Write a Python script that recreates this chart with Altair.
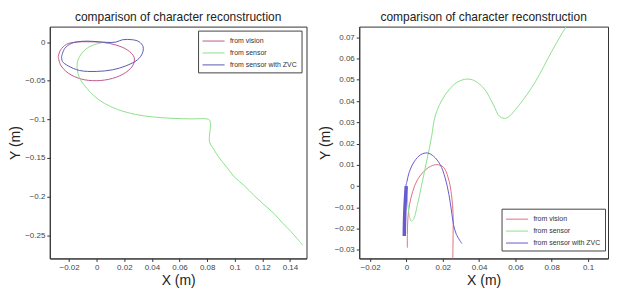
import altair as alt
import pandas as pd

SERIES = ["from vision", "from sensor", "from sensor with ZVC"]

# ---------- left panel ----------
left_vision_x = [-0.0279, -0.0262, -0.0219, -0.0148, -0.0052, 0.0044, 0.0139, 0.0223, 0.0271, 0.0264,
                 0.0211, 0.0115, -0.0004, -0.0112, -0.0207, -0.0262, -0.0279]
left_vision_y = [-0.0188, -0.0103, -0.0029, 0.0, 0.0004, -0.0004, -0.0038, -0.0103, -0.0196, -0.0295,
                 -0.0393, -0.047, -0.05, -0.0478, -0.0401, -0.0295, -0.0188]

left_sensor_x = [0.006, 0.0008, -0.0057, -0.0107, -0.0135, -0.0143, -0.0135, -0.0114, -0.0071, -0.0014,
                 0.0058, 0.0151, 0.028, 0.0402, 0.0546, 0.0689, 0.0797, 0.0818, 0.0825, 0.0818,
                 0.0818, 0.0847, 0.0883, 0.094, 0.0997, 0.1069, 0.1141, 0.1212, 0.1284, 0.1349,
                 0.1406, 0.1449, 0.1492]
left_sensor_y = [0.0, -0.002, -0.0064, -0.0141, -0.0231, -0.0308, -0.041, -0.05, -0.06, -0.0705,
                 -0.0795, -0.0872, -0.0936, -0.0968, -0.0987, -0.0994, -0.0994, -0.101, -0.1077, -0.119,
                 -0.1295, -0.1385, -0.1487, -0.1615, -0.1744, -0.1859, -0.1987, -0.2103, -0.2218, -0.2346,
                 -0.2449, -0.2538, -0.2628]

left_zvc_x = [-0.0255, -0.0231, -0.0183, -0.0112, -0.0028, 0.0067, 0.0139, 0.0187, 0.0259, 0.0307,
              0.0336, 0.0331, 0.0295, 0.0211, 0.0115, -0.0004, -0.0123, -0.0207, -0.0248, -0.0255]
left_zvc_y = [-0.0188, -0.0081, -0.0017, 0.0009, 0.0009, -0.0004, 0.0, 0.003, 0.003, 0.0004,
              -0.006, -0.0145, -0.023, -0.0308, -0.0359, -0.038, -0.0368, -0.0308, -0.0252, -0.0188]

# ---------- right panel ----------
right_vision_x = [0.0005, 0.0005, 0.0008, 0.0017, 0.0035, 0.0061, 0.0097, 0.0133, 0.0168, 0.0204,
                  0.023, 0.0248, 0.0257, 0.0257, 0.0255]
right_vision_y = [-0.029, -0.0227, -0.0149, -0.0086, -0.0024, 0.0031, 0.007, 0.0093, 0.0101, 0.0089,
                  0.0039, -0.004, -0.0133, -0.0227, -0.035]

right_sensor_x = [0.0, 0.0006, 0.0013, 0.0026, 0.0038, 0.0061, 0.0088, 0.0115, 0.0138, 0.016,
                  0.0213, 0.0284, 0.0355, 0.0426, 0.0479, 0.0514, 0.055, 0.0621, 0.071, 0.0799,
                  0.0879, 0.093]
right_sensor_y = [0.0, -0.007, -0.0125, -0.0164, -0.0157, -0.0086, 0.0023, 0.0132, 0.023, 0.0335,
                  0.0429, 0.0491, 0.0502, 0.046, 0.0382, 0.0327, 0.032, 0.0382, 0.0491, 0.0632,
                  0.075, 0.082]

right_zvc_x = [-0.0012, -0.0008, -0.0003, 0.0003, 0.0017, 0.0044, 0.0079, 0.0115, 0.015, 0.0186,
               0.0213, 0.0234, 0.0248, 0.0259, 0.0275, 0.0305]
right_zvc_y = [-0.0234, -0.012, 0.0, 0.0023, 0.007, 0.0117, 0.0148, 0.0156, 0.014, 0.0101,
               0.0039, -0.004, -0.0117, -0.018, -0.0227, -0.027]

right_zvc_thick_x = [-0.0012, -0.0011, -0.0008, -0.0004, -0.0001]
right_zvc_thick_y = [-0.0234, -0.018, -0.01, -0.004, 0.0]

left_x_ticks = [-0.02, 0, 0.02, 0.04, 0.06, 0.08, 0.1, 0.12, 0.14]
left_y_ticks = [-0.25, -0.2, -0.15, -0.1, -0.05, 0]
right_x_ticks = [-0.02, 0, 0.02, 0.04, 0.06, 0.08, 0.1]
right_y_ticks = [-0.03, -0.02, -0.01, 0, 0.01, 0.02, 0.03, 0.04, 0.05, 0.06, 0.07]

TITLE = "comparison of character reconstruction"


def frame(parts):
    rows = []
    for name, xs, ys in parts:
        for i, (x, y) in enumerate(zip(xs, ys)):
            rows.append({"x": x, "y": y, "series": name, "i": i})
    return pd.DataFrame(rows)


left_df = frame([("from vision", left_vision_x, left_vision_y),
                 ("from sensor", left_sensor_x, left_sensor_y),
                 ("from sensor with ZVC", left_zvc_x, left_zvc_y)])
right_df = frame([("from vision", right_vision_x, right_vision_y),
                  ("from sensor", right_sensor_x, right_sensor_y),
                  ("from sensor with ZVC", right_zvc_x, right_zvc_y)])
thick_df = frame([("from sensor with ZVC", right_zvc_thick_x, right_zvc_thick_y)])


def axis(ticks):
    return alt.Axis(values=ticks, format="~g", grid=False, tickSize=3, labelFontSize=8,
                    labelColor="#444", titleFontSize=14, titleFontWeight="normal",
                    titleColor="#222", domainColor="#333", tickColor="#333", labelPadding=2,
                    titlePadding=2, labelOverlap=False)


def xenc(xdom, xt):
    return alt.X("x:Q", scale=alt.Scale(domain=xdom, nice=False, zero=False), axis=axis(xt), title="X (m)")


def yenc(ydom, yt):
    return alt.Y("y:Q", scale=alt.Scale(domain=ydom, nice=False, zero=False), axis=axis(yt), title="Y (m)")


def panel(df, xdom, ydom, xt, yt, colors, widths, lx, ly, w, h):
    legend = alt.Legend(title=None, orient="none", legendX=lx, legendY=ly,
                        symbolType="M-1,0H2.7", symbolSize=144, labelFontSize=7,
                        labelColor="#333", strokeColor="#444", fillColor="white",
                        padding=4, rowPadding=2, symbolOffset=0, labelOffset=15)
    base = alt.Chart(df).mark_line(clip=True, interpolate="catmull-rom").encode(
        x=xenc(xdom, xt),
        y=yenc(ydom, yt),
        color=alt.Color("series:N", scale=alt.Scale(domain=SERIES, range=colors), legend=legend),
        strokeWidth=alt.StrokeWidth("series:N", scale=alt.Scale(domain=SERIES, range=widths), legend=legend),
        order="i:Q",
        detail="series:N",
    )
    return base.properties(width=w, height=h,
                           title=alt.TitleParams(TITLE, fontSize=12, fontWeight="normal",
                                                 color="#222", offset=3))


R_XDOM, R_YDOM = [-0.026, 0.111], [-0.034, 0.075]

left = panel(left_df, [-0.034, 0.152], [-0.28, 0.02], left_x_ticks, left_y_ticks,
             ["#c05a8a", "#8ee08e", "#5a5ab4"], [1, 1, 1], 149, 4, 258, 233)

right_main = panel(right_df, R_XDOM, R_YDOM, right_x_ticks, right_y_ticks,
                   ["#e0707e", "#8ee08e", "#6a5ad0"], [1, 1, 1.8], 143, 183, 250, 233)
right_thick = alt.Chart(thick_df).mark_line(clip=True, strokeWidth=3.5, color="#6a5ad0",
                                            interpolate="catmull-rom").encode(
    x=xenc(R_XDOM, right_x_ticks), y=yenc(R_YDOM, right_y_ticks), order="i:Q")
right = alt.layer(right_main, right_thick)

chart = alt.hconcat(left, right, spacing=10).resolve_scale(
    color="independent", strokeWidth="independent"
).resolve_legend(
    color="independent", strokeWidth="independent"
).configure(
    font="Liberation Sans", padding={"top": 1, "left": 0, "right": 0, "bottom": 0}
).configure_view(stroke="#333", strokeWidth=1)

chart.save("out.html", embed_options={"renderer": "svg", "actions": False})
